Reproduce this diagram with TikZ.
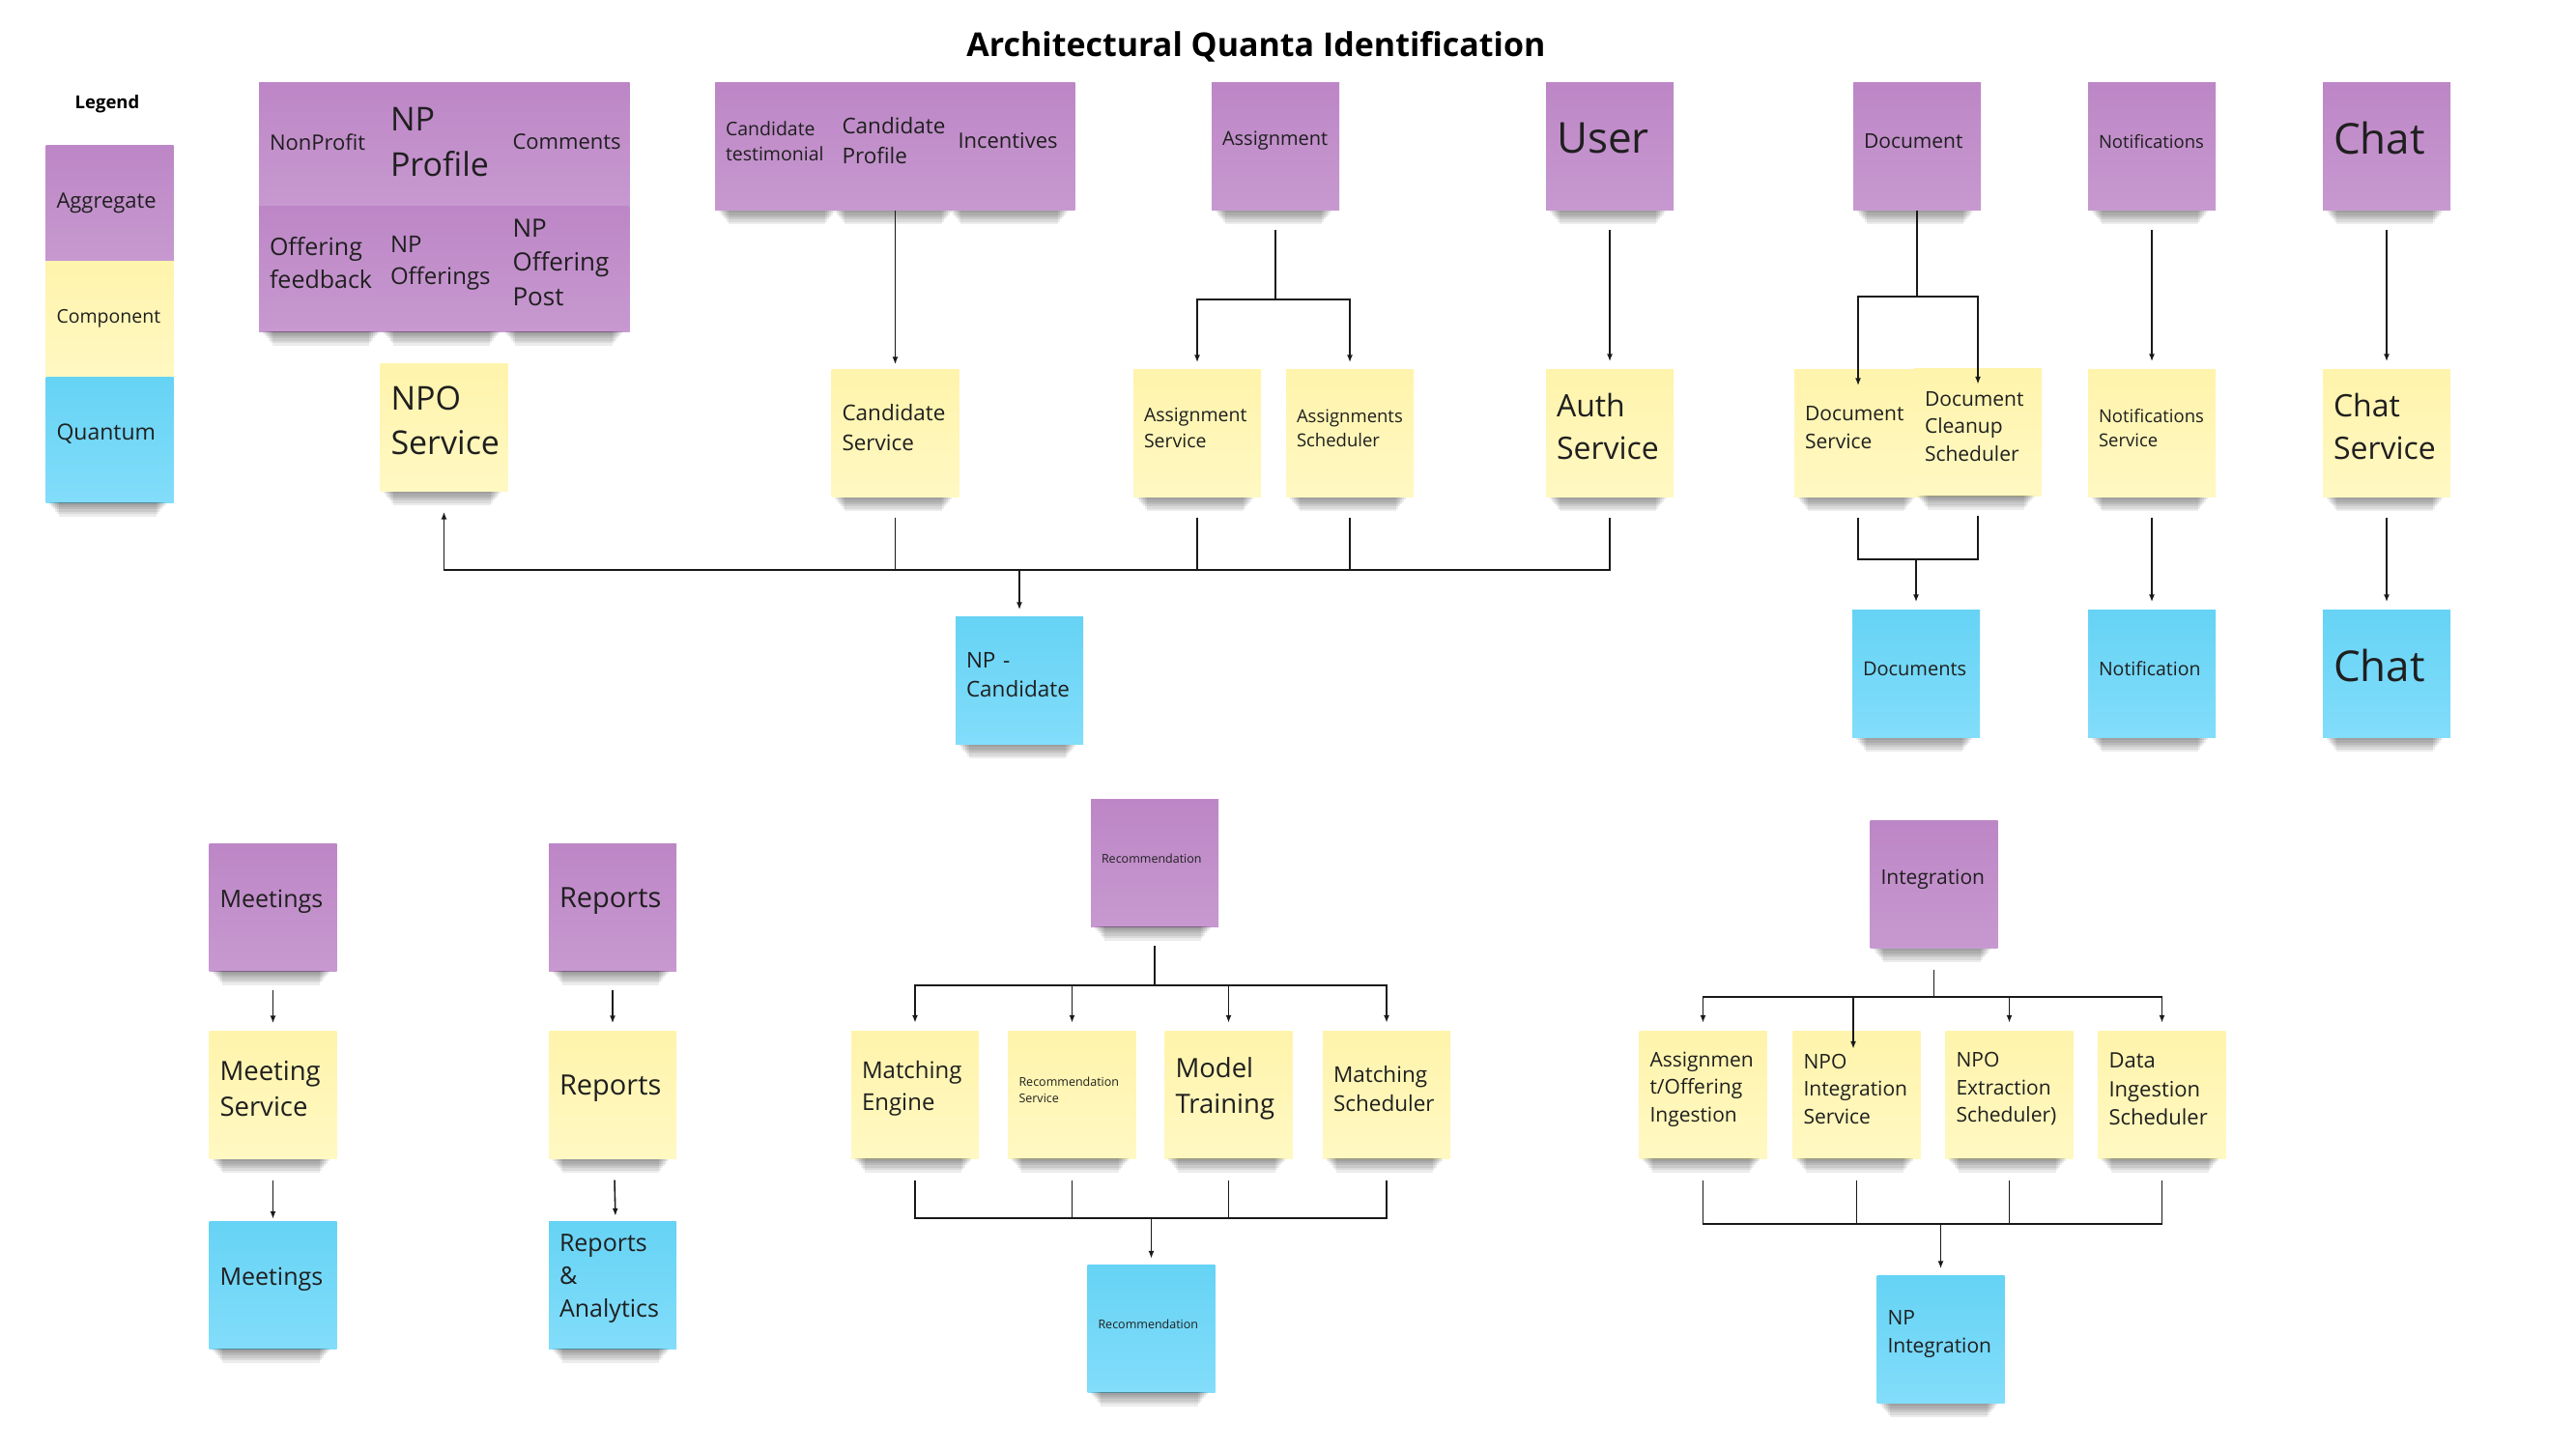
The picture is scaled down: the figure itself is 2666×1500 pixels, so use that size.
\documentclass[tikz,border=0pt]{standalone}
\usepackage{fontspec}
\setmainfont{Open Sans}
\usepackage{tikz}
\usetikzlibrary{arrows.meta}
\definecolor{aggT}{RGB}{189,134,198}
\definecolor{aggB}{RGB}{199,153,208}
\definecolor{compT}{RGB}{255,244,172}
\definecolor{compB}{RGB}{255,248,194}
\definecolor{quantT}{RGB}{102,211,245}
\definecolor{quantB}{RGB}{130,221,250}
\hyphenpenalty=10000
\exhyphenpenalty=10000
\newcommand{\stickyfont}[1]{\fontsize{#1}{#1}\selectfont\baselineskip=1.36\dimexpr#1pt\relax}
\newcommand{\stickygap}{\dimexpr6pt+.25em\relax}
\newcommand{\sticky}[6]{\node[#1,font=\stickyfont{#5}] (#2) at (#3,#4) {#6};}
\newcommand{\stickyshadow}[1]{
    \foreach \k in {1,...,6}{
    \fill[black,opacity=.075] ([xshift={2pt+2pt*\k}]#1.south west) rectangle ([xshift={-6pt-2pt*\k},yshift={-2.4pt*\k}]#1.south east);
    }
}
\tikzset{
  sticky/.style={minimum height=132pt,text width=110pt,inner xsep=11pt,inner ysep=0pt,align=left,text=black!88,
    execute at end node={\par\kern\stickygap}},
  lift/.code={\renewcommand{\stickygap}{#1}},
  agg/.style={sticky,top color=aggT,bottom color=aggB},
  comp/.style={sticky,top color=compT,bottom color=compB},
  quant/.style={sticky,top color=quantT,bottom color=quantB},
  conn/.style={draw=black!90,line width=1.6pt},
  arr/.style={conn,-{Latex[length=8pt,width=6pt]}}
}

\begin{document}
\begin{tikzpicture}[x=1pt,y=-1pt]
\fill[white] (0,0) rectangle (2666,1500);
\useasboundingbox (0,0) rectangle (2666,1500);
\node[font=\stickyfont{34}\bfseries,anchor=base] (title) at (1300,58) {Architectural Quanta Identification};
\node[font=\stickyfont{18.5}\bfseries,anchor=base] (legend) at (111,112) {Legend};
\sticky{agg,minimum height=120pt,lift=0pt}{legA}{113.5}{210}{22}{Aggregate}
\sticky{comp,minimum height=120pt,lift=0pt}{legC}{113.5}{330}{19.5}{Component}
\sticky{quant,minimum height=130pt}{legQ}{113.5}{455}{23}{Quantum}
\sticky{agg,minimum height=128pt,lift=4pt}{npProf}{459}{149}{34}{NP\\Profile}
\sticky{agg,minimum height=130pt}{npOffs}{459}{278}{24}{NP\\Offerings}
\sticky{agg,minimum height=128pt,lift=4pt}{npNon}{334}{149}{22}{NonProfit}
\sticky{agg,minimum height=130pt}{npFeed}{334}{278}{25}{Offering\\feedback}
\sticky{agg,minimum height=128pt,lift=4pt}{npCom}{585.5}{149}{22}{Comments}
\sticky{agg,minimum height=130pt}{npPost}{585.5}{278}{26}{NP\\Offering\\Post}
\sticky{comp}{npoS}{459.5}{442.5}{34}{NPO\\Service}
\sticky{agg}{candT}{806}{151.5}{19.5}{Candidate\\testimonial}
\sticky{agg}{candI}{1046.5}{151.5}{22}{Incentives}
\sticky{agg}{candP}{926.5}{151.5}{22.5}{Candidate\\Profile}
\sticky{comp}{candS}{926.5}{448.5}{22.5}{Candidate\\Service}
\sticky{agg}{asgA}{1320}{151.5}{20}{Assignment}
\sticky{comp}{asgS}{1239}{448.5}{19.5}{Assignment\\Service}
\sticky{comp}{asgSch}{1397}{448.5}{18.5}{Assignments\\Scheduler}
\sticky{agg}{usr}{1666}{151.5}{44}{User}
\sticky{comp}{auth}{1666}{448.5}{32}{Auth\\Service}
\sticky{agg}{doc}{1984}{151.5}{21}{Document}
\sticky{comp}{docS}{1923}{448.5}{21}{Document\\Service}
\sticky{comp}{docC}{2047}{447}{21}{Document\\Cleanup\\Scheduler}
\sticky{quant}{docQ}{1983}{697.5}{20}{Documents}
\sticky{agg}{ntf}{2227}{151.5}{18.5}{Notifications}
\sticky{comp}{ntfS}{2227}{448.5}{18.5}{Notifications\\Service}
\sticky{quant}{ntfQ}{2227}{697.5}{19.5}{Notification}
\sticky{agg}{chat}{2470}{151.5}{44}{Chat}
\sticky{comp}{chatS}{2470}{448.5}{32}{Chat\\Service}
\sticky{quant}{chatQ}{2470}{697.5}{44}{Chat}
\sticky{quant}{npc}{1055}{704.5}{22.5}{NP -\\Candidate}
\sticky{agg}{meetA}{282.5}{939}{25}{Meetings}
\sticky{comp}{meetS}{282.5}{1133.5}{27.5}{Meeting\\Service}
\sticky{quant}{meetQ}{282.5}{1330}{25}{Meetings}
\sticky{agg}{repA}{634}{939}{29}{Reports}
\sticky{comp}{repS}{634}{1133.5}{29}{Reports}
\sticky{quant}{repQ}{634}{1330}{25}{Reports\\\&\\Analytics}
\sticky{agg}{recA}{1195}{893}{12.5}{Recommendation}
\sticky{comp}{recME}{947}{1133}{24}{Matching\\Engine}
\sticky{comp}{recS}{1109.5}{1133}{12.5}{Recommendation\\Service}
\sticky{comp}{recMT}{1271.5}{1133}{27.5}{Model\\Training}
\sticky{comp}{recMS}{1435}{1133}{22.5}{Matching\\Scheduler}
\sticky{quant}{recQ}{1191.5}{1375}{12.5}{Recommendation}
\sticky{agg}{intA}{2001.5}{915.5}{21}{Integration}
\sticky{comp}{intAO}{1762.5}{1133}{21}{Assignmen\\t/Offering\\Ingestion}
\sticky{comp}{intNS}{1921.5}{1133}{21}{NPO\\Integration\\Service}
\sticky{comp}{intNE}{2079.5}{1133}{21}{NPO\\Extraction\\Scheduler)}
\sticky{comp}{intDI}{2237.5}{1133}{22}{Data\\Ingestion\\Scheduler}
\sticky{quant}{intQ}{2008.5}{1386.5}{21}{NP\\Integration}
\foreach \n in {legQ,npOffs,npFeed,npPost,npoS,candT,candI,candP,candS,asgA,asgS,asgSch,usr,auth,doc,docS,docC,docQ,ntf,ntfS,ntfQ,chat,chatS,chatQ,npc,meetA,meetS,meetQ,repA,repS,repQ,recA,recME,recS,recMT,recMS,recQ,intA,intAO,intNS,intNE,intDI,intQ}
  \stickyshadow{\n}
\coordinate (asgJ) at (1320,310);
\coordinate (docJ) at (1984,307);
\coordinate (docK) at (1983,579);
\coordinate (busJ) at (1055,590);
\coordinate (recJ) at (1195,1020);
\coordinate (recK) at (1191.5,1261);
\coordinate (intJ) at (2001.5,1032);
\coordinate (intK) at (2008.5,1267);
\draw[arr,shorten >=5pt] (candP) -- (candS);
\draw[conn,shorten <=20pt] (asgA) -- (asgJ);
\draw[arr,shorten >=7pt] (asgJ) -| (asgS);
\draw[arr,shorten >=7pt] (asgJ) -| (asgSch);
\draw[arr,shorten <=20pt,shorten >=8pt] (usr) -- (auth);
\draw[conn] (doc) -- (docJ);
\draw[arr,shorten >=-17pt] (docJ) -| (docS);
\draw[arr,shorten >=-17pt] (docJ) -| (docC);
\draw[conn,shorten <=21pt] (docS) |- (docK);
\draw[conn,shorten <=21pt] (docC) |- (docK);
\draw[arr,shorten >=8pt] (docK) -- (docQ);
\draw[arr,shorten <=20pt,shorten >=8pt] (ntf) -- (ntfS);
\draw[arr,shorten <=21pt,shorten >=8pt] (ntfS) -- (ntfQ);
\draw[arr,shorten <=20pt,shorten >=8pt] (chat) -- (chatS);
\draw[arr,shorten <=21pt,shorten >=8pt] (chatS) -- (chatQ);
\draw[arr,shorten >=21pt] (busJ) -| (npoS);
\foreach \n in {candS,asgS,asgSch,auth}
  \draw[conn,shorten <=21pt] (\n) |- (busJ);
\draw[arr,shorten >=7pt] (busJ) -- (npc);
\draw[arr,shorten <=20pt,shorten >=8pt] (meetA) -- (meetS);
\draw[arr,shorten <=22pt,shorten >=2pt] (meetS) -- (meetQ);
\draw[arr,shorten <=20pt,shorten >=8pt] (repA) -- (repS);
\draw[arr,shorten <=22pt,shorten >=5pt] (repS) -- ([xshift=3pt]repQ.north);
\draw[conn,shorten <=20pt] (recA) -- (recJ);
\foreach \n in {recME,recS,recMT,recMS}{
  \draw[arr,shorten >=8pt] (recJ) -| (\n);
  \draw[conn,shorten <=23pt] (\n) |- (recK);
}
\draw[arr,shorten >=6pt] (recK) -- (recQ);
\draw[conn,shorten <=22pt] (intA) -- (intJ);
\foreach \n in {intAO,intNE,intDI}
  \draw[arr,shorten >=8pt] (intJ) -| (\n);
\draw[arr,shorten >=-19pt] (intJ) -| ([xshift=-3.5pt]intNS.north);
\foreach \n in {intAO,intNS,intNE,intDI}
  \draw[conn,shorten <=23pt] (\n) |- (intK);
\draw[arr,shorten >=7pt] (intK) -- (intQ);
\end{tikzpicture}
\end{document}
